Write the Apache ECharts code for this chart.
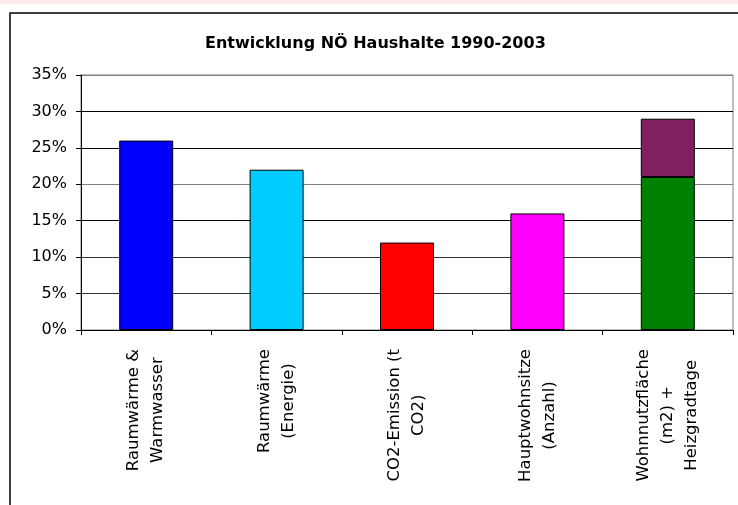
<!DOCTYPE html>
<html>
<head>
<meta charset="utf-8">
<script src="https://cdn.jsdelivr.net/npm/echarts@6/dist/echarts.min.js"></script>
<style>
    html, body { margin: 0; padding: 0; background: #fff; }
    #chart { width: 738px; height: 505px; }
</style>
</head>
<body>
<div id="chart"></div>
<script>
// Kategorien (Zeilenumbruch wie im Original)
const categories = [
    'Raumwärme &\nWarmwasser',
    'Raumwärme\n(Energie)',
    'CO2-Emission (t\nCO2)',
    'Hauptwohnsitze\n(Anzahl)',
    'Wohnnutzfläche\n(m2) +\nHeizgradtage'
]
// Werte in %
const baseValues = [26, 22, 12, 16, 21]
const topValues = [null, null, null, null, 8]
const barColors = ['#0000FF', '#00CCFF', '#FF0000', '#FF00FF', '#008000']
const topColor = '#802060'
const yTicks = [0, 5, 10, 15, 20, 25, 30, 35]

const chart = echarts.init(document.getElementById('chart'))

// Zeilen im gedrehten Label mittig ausrichten
const labelFormatter = (value) => value.split('\n').map(l => '{c|' + l + '}').join('\n')

const option = {
    animation: false,
    backgroundColor: '#fff',
    textStyle: { fontFamily: 'DejaVu Sans' },
    title: {
        text: 'Entwicklung NÖ Haushalte 1990-2003',
        left: 200,
        top: 31,
        textStyle: {
            fontFamily: 'DejaVu Sans',
            fontWeight: 'bold',
            fontSize: 16,
            color: '#000'
        }
    },
    graphic: [
        {
            type: 'rect',
            shape: { x: 0, y: 0, width: 738, height: 4 },
            style: { fill: '#fcecec' },
            silent: true
        },
        {
            type: 'rect',
            shape: { x: 10, y: 13, width: 760, height: 520 },
            style: { fill: 'none', stroke: '#000', lineWidth: 1.5 },
            silent: true
        }
    ],
    grid: {
        left: 81,
        right: 5,
        top: 75,
        bottom: 175,
        show: true,
        borderColor: '#808080',
        borderWidth: 1,
        backgroundColor: 'transparent'
    },
    xAxis: {
        type: 'category',
        data: categories,
        axisLine: { lineStyle: { color: '#000', width: 1 } },
        axisTick: { show: true, inside: false, length: 5, lineStyle: { color: '#000' } },
        axisLabel: {
            rotate: 90,
            margin: 19,
            interval: 0,
            color: '#000',
            fontSize: 16.5,
            lineHeight: 24,
            formatter: labelFormatter,
            rich: {
                c: { align: 'center', fontSize: 16.5, lineHeight: 24, color: '#000', fontFamily: 'DejaVu Sans' }
            }
        }
    },
    yAxis: {
        type: 'value',
        min: yTicks[0],
        max: yTicks[yTicks.length - 1],
        interval: 5,
        axisLine: { show: true, lineStyle: { color: '#000', width: 1 } },
        axisTick: { show: true, inside: false, length: 5, lineStyle: { color: '#000' } },
        axisLabel: {
            formatter: '{value}%',
            color: '#000',
            fontSize: 16,
            margin: 14
        },
        splitLine: {
            show: true,
            lineStyle: {
                color: ['#000', '#333', '#333', '#000', '#808080', '#000', '#000', '#808080'],
                width: 1
            }
        }
    },
    series: [
        {
            name: 'Basis',
            type: 'bar',
            stack: 'total',
            barWidth: 54,
            data: baseValues.map((v, i) => ({
                value: v,
                itemStyle: { color: barColors[i] }
            })),
            itemStyle: { borderColor: '#000', borderWidth: 1 }
        },
        {
            name: 'Heizgradtage',
            type: 'bar',
            stack: 'total',
            barWidth: 54,
            data: topValues,
            itemStyle: { color: topColor, borderColor: '#000', borderWidth: 1 }
        }
    ]
}

chart.setOption(option)
</script>
</body>
</html>
